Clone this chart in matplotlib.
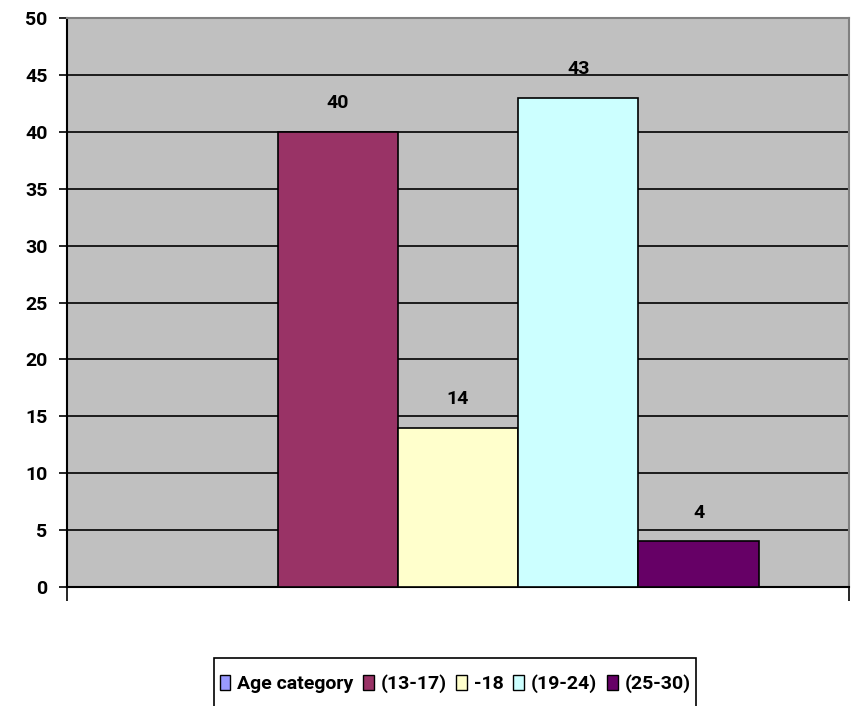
import matplotlib
matplotlib.use("Agg")
import matplotlib.pyplot as plt
from matplotlib.patches import Patch, Rectangle
from matplotlib import font_manager as fm

series = ["Age category", "(13-17)", "-18", "(19-24)", "(25-30)"]
values = [None, 40, 14, 43, 4]
colors = ["#9999FF", "#993366", "#FFFFCC", "#CCFFFF", "#660066"]
yticks = list(range(0, 51, 5))

available = {f.name for f in fm.fontManager.ttflist}
if "Liberation Sans Narrow" in available:
    fam, fs = "Liberation Sans Narrow", 16
else:
    fam, fs = "Roboto", 14

plt.rcParams['font.family'] = [fam, 'DejaVu Sans']
plt.rcParams['font.weight'] = 'bold'

W, H = 856, 706
fig = plt.figure(figsize=(W / 100, H / 100), dpi=100)
ax = fig.add_axes([67/W, 119/H, 782/W, 569/H])
ax.set_facecolor("#C0C0C0")

n = len(series)
for i, (s, v, c) in enumerate(zip(series, values, colors)):
    x = i - (n - 1) / 2
    if v is None:
        continue
    ax.bar(x, v, width=1.0, color=c, edgecolor="black", linewidth=1.2, zorder=3)
    ax.text(x, v + 1.7, str(v), ha="center", va="bottom", fontsize=fs, fontweight="bold", zorder=4)

ax.set_xlim(-3.25, 3.25)
ax.set_ylim(0, 50)
ax.set_yticks(yticks)
ax.set_yticklabels([str(t) for t in yticks], fontsize=fs, fontweight="bold")
ax.yaxis.grid(True, color="black", linewidth=1.2, zorder=1)
ax.set_axisbelow(True)
ax.tick_params(axis="y", direction="out", length=6, width=1.2, pad=8)
ax.set_xticks([-3.25, 3.25])
ax.set_xticklabels(["", ""])
ax.tick_params(axis="x", direction="out", length=10, width=1.2)

for side in ["top", "right"]:
    ax.spines[side].set_color("#808080")
    ax.spines[side].set_linewidth(1.5)
for side in ["left", "bottom"]:
    ax.spines[side].set_color("black")
    ax.spines[side].set_linewidth(1.5)

handles = [Patch(facecolor=c, edgecolor="black", linewidth=1.0) for c in colors]
leg = fig.legend(handles, series, loc="center", bbox_to_anchor=(455/W, 1 - 684/H),
                 ncol=n, frameon=False,
                 handlelength=0.55, handleheight=0.75, handletextpad=0.35, columnspacing=0.5,
                 borderpad=0.3, borderaxespad=0, prop={'weight': 'bold', 'size': fs})

fig.canvas.draw()
bb = leg.get_window_extent()
top = H - 658
frame = Rectangle((bb.x0 / W, -10 / H), (bb.x1 - bb.x0) / W, (top + 10) / H,
                  transform=fig.transFigure, facecolor="none", edgecolor="black",
                  linewidth=1.2, clip_on=False)
fig.patches.append(frame)

fig.savefig("out.png", dpi=100)
